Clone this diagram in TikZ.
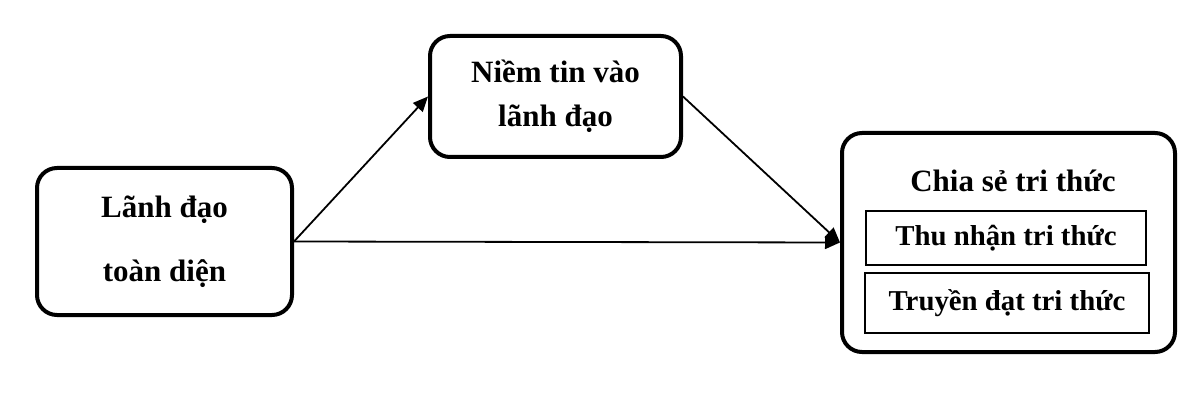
\documentclass[tikz,border=0pt]{standalone}
\usepackage{fontspec}
\setmainfont{Liberation Serif}
\usetikzlibrary{arrows.meta}

\begin{document}
\begin{tikzpicture}[x=0.5pt, y=-0.5pt,
    bigbox/.style={draw, line width=2pt, rounded corners=10pt, align=center,
        font=\fontsize{15.5}{20}\selectfont\bfseries},
    subbox/.style={draw, line width=0.6pt, inner sep=0pt,
        font=\fontsize{14.4}{18}\selectfont\bfseries},
    link/.style={line width=0.9pt, -{Triangle[length=7.5pt, width=6.5pt]}}]

        \useasboundingbox (0, 0) rectangle (1195, 401);

        % the three boxes
        \node[bigbox, minimum width=127.5pt, minimum height=73.5pt] (lead) at (164.5, 241.5)
            {Lãnh đạo\\[12pt]toàn diện};
        \node[bigbox, minimum width=125.5pt, minimum height=60.5pt] (trust) at (555.5, 96.5)
            {Niềm tin vào\\[2pt]lãnh đạo};
        \node[bigbox, minimum width=166.5pt, minimum height=109.5pt] (share) at (1008.5, 242.5) {};

        \node[font=\fontsize{15.5}{20}\selectfont\bfseries] (title) at (1013, 181) {Chia sẻ tri thức};
        \node[subbox, minimum width=140pt, minimum height=27pt] (gain) at (1006, 238) {Thu nhận tri thức};
        \node[subbox, minimum width=142pt, minimum height=30pt] (pass) at (1007, 303) {Truyền đạt tri thức};

        % arrows
        \draw[link] (lead.east) -- (trust.west);
        \draw[link] (lead.east) -- (share.west);
        \draw[link] (trust.east) -- (share.west);

\end{tikzpicture}
\end{document}
